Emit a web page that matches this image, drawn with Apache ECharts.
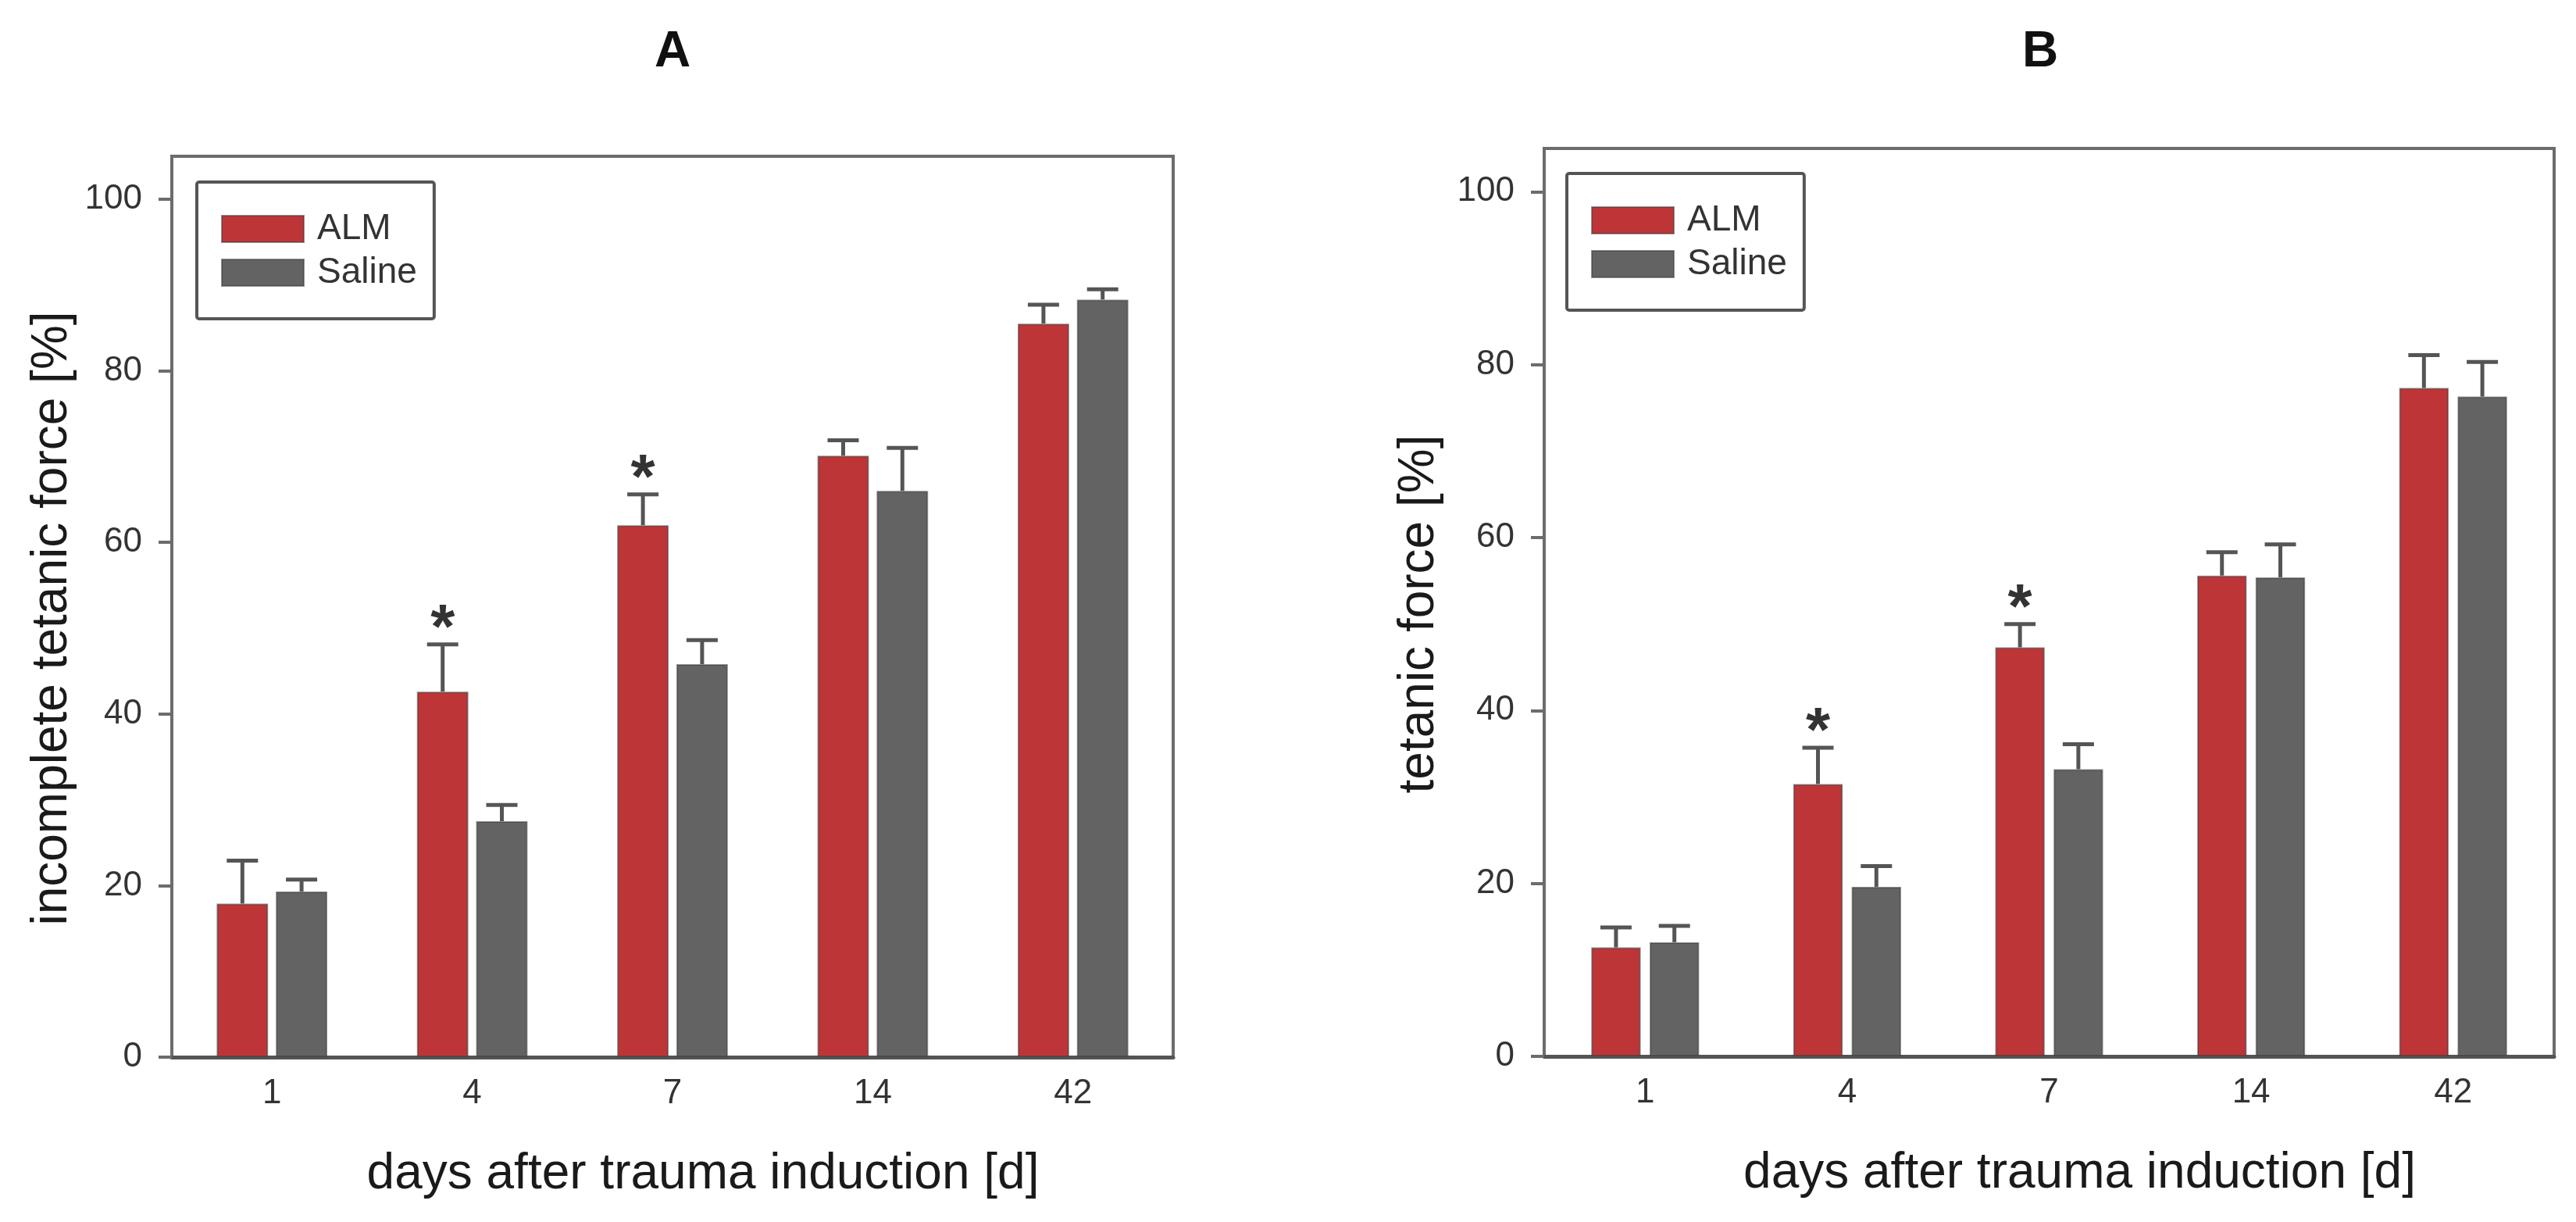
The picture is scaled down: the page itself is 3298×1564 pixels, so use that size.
<!DOCTYPE html>
<html><head><meta charset="utf-8">
<script src="https://cdn.jsdelivr.net/npm/echarts@6/dist/echarts.min.js"></script>
<style>html,body{margin:0;padding:0;background:#fff}#c{width:3298px;height:1564px}</style>
</head><body><div id="c"></div>
<script>
// ---- data ----
const days = ['1', '4', '7', '14', '42'];
const yTickValues = [0, 20, 40, 60, 80, 100];
const seriesNames = ['ALM', 'Saline'];

// Panel A: incomplete tetanic force [%]
const almA = [17.9, 42.6, 62.0, 70.1, 85.5];
const almErrA = [5.0, 5.5, 3.6, 1.8, 2.2];
const salineA = [19.3, 27.5, 45.8, 66.0, 88.3];
const salineErrA = [1.4, 1.9, 2.8, 5.0, 1.2];
const sigA = [0, 1, 1, 0, 0];

// Panel B: tetanic force [%]
const almB = [12.6, 31.5, 47.3, 55.6, 77.3];
const almErrB = [2.3, 4.2, 2.7, 2.7, 3.8];
const salineB = [13.2, 19.6, 33.2, 55.4, 76.3];
const salineErrB = [1.9, 2.4, 2.9, 3.8, 4.0];
const sigB = [0, 1, 1, 0, 0];

// ---- styling ----
const FONT = '"Liberation Sans", Arial, sans-serif';
const RED = '#BE3538';
const GRAY = '#636363';
const FRAME = '#6c6c6c';
const ERR = '#555555';

function errData(mean, err, sig) {
  return mean.map((m, i) => [i, m, err[i], sig ? sig[i] : 0]);
}

function makeErr(frac, gapFrac, side) {
  return function (params, api) {
    const i = api.value(0), m = api.value(1), e = api.value(2), s = api.value(3);
    const band = api.size([1, 0])[0];
    const bw = band * frac;
    const off = side * (bw + bw * gapFrac) / 2;
    const base = api.coord([i, m]);
    const top = api.coord([i, m + e]);
    const x = base[0] + off;
    const children = [
      { type: 'line', shape: { x1: x, y1: base[1], x2: x, y2: top[1] }, style: { stroke: ERR, lineWidth: 5 } },
      { type: 'line', shape: { x1: x - 20, y1: top[1], x2: x + 20, y2: top[1] }, style: { stroke: ERR, lineWidth: 5 } }
    ];
    if (s) {
      children.push({ type: 'text', x: x, y: top[1] - 18,
        style: { text: '*', font: 'bold 80px ' + FONT, fill: '#333', align: 'center', verticalAlign: 'middle' } });
    }
    return { type: 'group', children: children };
  };
}

const panels = [
  { grid: { left: 220, top: 200, width: 1282, height: 1153 }, yName: 'incomplete tetanic force [%]', nameGap: 121,
    alm: almA, almErr: almErrA, sal: salineA, salErr: salineErrA, sig: sigA, frac: 0.257, gap: 0.15,
    legend: { left: 252, top: 233 } },
  { grid: { left: 1977, top: 190, width: 1293, height: 1162 }, yName: 'tetanic force [%]', nameGap: 128,
    alm: almB, almErr: almErrB, sal: salineB, salErr: salineErrB, sig: sigB, frac: 0.245, gap: 0.18,
    legend: { left: 2006, top: 222 } }
];

const option = {
  animation: false,
  backgroundColor: '#ffffff',
  graphic: [
    { type: 'text', x: 861, y: 67, style: { text: 'A', font: 'bold 64px ' + FONT, fill: '#111', align: 'center', verticalAlign: 'middle' } },
    { type: 'text', x: 2612, y: 67, style: { text: 'B', font: 'bold 64px ' + FONT, fill: '#111', align: 'center', verticalAlign: 'middle' } }
  ],
  grid: [], xAxis: [], yAxis: [], legend: [], series: []
};

panels.forEach((p, k) => {
  option.grid.push(Object.assign({ show: true, borderColor: FRAME, borderWidth: 4, containLabel: false }, p.grid));
  option.xAxis.push({
    type: 'category', gridIndex: k, data: days,
    axisLine: { lineStyle: { color: '#555', width: 5 } },
    axisTick: { show: false },
    axisLabel: { fontSize: 44, fontFamily: FONT, color: '#333', margin: 25 },
    name: 'days after trauma induction [d]', nameLocation: 'middle', nameGap: 118,
    nameTextStyle: { fontSize: 64, fontFamily: FONT, color: '#1a1a1a', padding: [0, 0, 0, 78] }
  });
  option.yAxis.push({
    type: 'value', gridIndex: k, min: 0, max: 105, interval: 20,
    axisLine: { show: true, lineStyle: { color: FRAME, width: 4 } },
    axisTick: { show: true, length: 17, customValues: yTickValues, lineStyle: { color: FRAME, width: 4 } },
    axisLabel: { fontSize: 44, fontFamily: FONT, color: '#333', margin: 38, customValues: yTickValues },
    splitLine: { show: false },
    name: p.yName, nameLocation: 'middle', nameGap: p.nameGap,
    nameTextStyle: { fontSize: 64, fontFamily: FONT, color: '#1a1a1a', padding: [0, 30, 0, 0] }
  });
  option.legend.push({
    data: seriesNames, left: p.legend.left, top: p.legend.top, orient: 'vertical',
    padding: [37, 22, 36, 31], itemGap: 10, itemWidth: 105, itemHeight: 34,
    borderColor: '#555', borderWidth: 4, borderRadius: 3, backgroundColor: '#fff',
    icon: 'rect', selectedMode: false,
    textStyle: { fontSize: 46, lineHeight: 46, fontFamily: FONT, color: '#333', padding: [0, 0, 0, 12] }
  });
  const barStyle = (c) => ({ color: c, borderColor: 'rgba(60,60,60,0.55)', borderWidth: 2 });
  option.series.push({
    name: 'ALM', type: 'bar', xAxisIndex: k, yAxisIndex: k, data: p.alm,
    barWidth: (p.frac * 100).toFixed(1) + '%', barGap: (p.gap * 100).toFixed(0) + '%',
    itemStyle: barStyle(RED), z: 2
  });
  option.series.push({
    name: 'Saline', type: 'bar', xAxisIndex: k, yAxisIndex: k, data: p.sal,
    barWidth: (p.frac * 100).toFixed(1) + '%', barGap: (p.gap * 100).toFixed(0) + '%',
    itemStyle: barStyle(GRAY), z: 2
  });
  option.series.push({
    name: 'ALM SEM', type: 'custom', xAxisIndex: k, yAxisIndex: k, z: 3,
    renderItem: makeErr(p.frac, p.gap, -1), data: errData(p.alm, p.almErr, p.sig),
    encode: { x: 0, y: 1 }, silent: true
  });
  option.series.push({
    name: 'Saline SEM', type: 'custom', xAxisIndex: k, yAxisIndex: k, z: 3,
    renderItem: makeErr(p.frac, p.gap, 1), data: errData(p.sal, p.salErr, null),
    encode: { x: 0, y: 1 }, silent: true
  });
});

const chart = echarts.init(document.getElementById('c'));
chart.setOption(option);
</script>
</body></html>
